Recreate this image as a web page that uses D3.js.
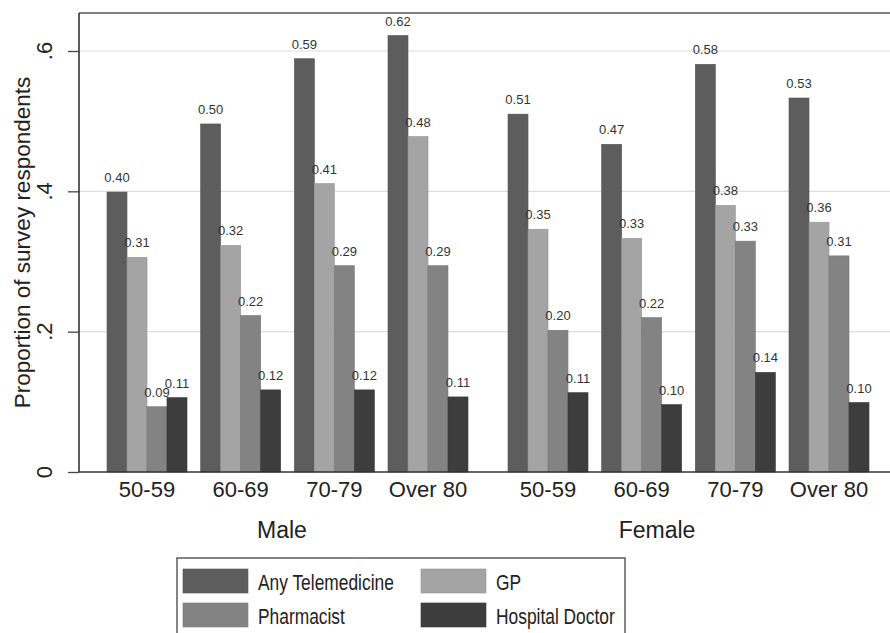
<!DOCTYPE html>
<html><head><meta charset="utf-8">
<script src="https://cdn.jsdelivr.net/npm/d3@7"></script>
<style>body{margin:0;background:#fff}svg{display:block}text{font-family:"Liberation Sans",Arial,sans-serif}</style>
</head><body><svg id="c" width="890" height="633"></svg>
<script>
const sexes = ["Male", "Female"];
const ages = ["50-59", "60-69", "70-79", "Over 80"];
const seriesNames = ["Any Telemedicine", "GP", "Pharmacist", "Hospital Doctor"];
const anyTele = [0.399, 0.496, 0.589, 0.622, 0.510, 0.467, 0.581, 0.533];
const gp = [0.306, 0.323, 0.411, 0.478, 0.346, 0.333, 0.380, 0.356];
const pharmacist = [0.093, 0.223, 0.294, 0.294, 0.202, 0.220, 0.329, 0.308];
const hospital = [0.106, 0.117, 0.117, 0.107, 0.113, 0.096, 0.142, 0.099];
const yTicks = [0, 0.2, 0.4, 0.6];
const yTickLabels = ["0", ".2", ".4", ".6"];
const colors = ["#5d5d5d", "#a4a4a4", "#838383", "#3d3d3d"];

const seriesVals = [anyTele, gp, pharmacist, hospital];
const svg = d3.select("#c");
const pLeft = 79, pTop = 13, pBottom = 472, pRight = 890;

const y = d3.scaleLinear().domain([0, 0.6]).range([pBottom, 51]);
const xSex = d3.scaleBand().domain(sexes).range([107, 869]).paddingInner(0.0998).paddingOuter(0);
const xAge = d3.scaleBand().domain(ages).range([0, xSex.bandwidth()]).paddingInner(0.146).paddingOuter(0);
const xSer = d3.scaleBand().domain(seriesNames).range([0, xAge.bandwidth()]).padding(0);

// gridlines
svg.append("g").selectAll("line").data(yTicks.filter(d => d > 0)).join("line")
  .attr("x1", pLeft).attr("x2", pRight).attr("y1", d => y(d)).attr("y2", d => y(d))
  .attr("stroke", "#dedede").attr("stroke-width", 1.2);

// top border
svg.append("line").attr("x1", pLeft).attr("x2", pRight).attr("y1", pTop).attr("y2", pTop)
  .attr("stroke", "#555").attr("stroke-width", 1.5);

// data rows
const rows = [];
sexes.forEach((s, si) => ages.forEach((a, ai) => seriesNames.forEach((n, ni) => {
  rows.push({sex: s, age: a, name: n, ni, v: seriesVals[ni][si * ages.length + ai]});
})));

const bx = d => xSex(d.sex) + xAge(d.age) + xSer(d.name);
svg.append("g").selectAll("rect").data(rows).join("rect")
  .attr("x", bx).attr("width", xSer.bandwidth())
  .attr("y", d => y(d.v)).attr("height", d => pBottom - y(d.v))
  .attr("fill", d => colors[d.ni]).attr("stroke", d => d3.color(colors[d.ni]).darker(0.3)).attr("stroke-width", 0.6);

svg.append("g").selectAll("text").data(rows).join("text")
  .attr("x", d => bx(d) + xSer.bandwidth() / 2).attr("y", d => y(d.v) - 10)
  .attr("text-anchor", "middle").attr("font-size", 13).attr("fill", "#333")
  .text(d => d3.format(".2f")(d.v));

// axes
const yAxis = d3.axisLeft(y).tickValues(yTicks).tickSize(11).tickFormat("");
const gy = svg.append("g").attr("transform", `translate(${pLeft},0)`).call(yAxis);
gy.select(".domain").remove();
gy.selectAll(".tick line").attr("stroke", "#444").attr("stroke-width", 1.3);
svg.append("line").attr("x1", pLeft).attr("x2", pLeft).attr("y1", pTop).attr("y2", pBottom)
  .attr("stroke", "#333").attr("stroke-width", 1.6);
svg.append("line").attr("x1", pLeft).attr("x2", pRight).attr("y1", pBottom).attr("y2", pBottom)
  .attr("stroke", "#333").attr("stroke-width", 1.6);

svg.append("g").selectAll("text").data(yTicks).join("text")
  .attr("transform", d => `translate(52,${y(d)}) rotate(-90)`)
  .attr("text-anchor", "middle").attr("font-size", 22).attr("fill", "#222")
  .text((d, i) => yTickLabels[i]);

svg.append("text").attr("transform", `translate(30,${(pTop + pBottom) / 2}) rotate(-90)`)
  .attr("text-anchor", "middle").attr("font-size", 22.5).attr("fill", "#222")
  .text("Proportion of survey respondents");

// age labels
const ageRows = [];
sexes.forEach(s => ages.forEach(a => ageRows.push({s, a})));
svg.append("g").selectAll("text").data(ageRows).join("text")
  .attr("x", d => xSex(d.s) + xAge(d.a) + xAge.bandwidth() / 2).attr("y", 497)
  .attr("text-anchor", "middle").attr("font-size", 22).attr("fill", "#222")
  .text(d => d.a);

const sexLabelX = [282, 657];
svg.append("g").selectAll("text").data(sexes).join("text")
  .attr("x", (d, i) => sexLabelX[i]).attr("y", 538)
  .attr("text-anchor", "middle").attr("font-size", 23).attr("fill", "#222")
  .text(d => d);

// legend
const lg = svg.append("g");
lg.append("rect").attr("x", 177).attr("y", 558).attr("width", 448).attr("height", 100)
  .attr("fill", "#fff").attr("stroke", "#444").attr("stroke-width", 1.3);
const legPos = [[183, 569], [421, 569], [183, 603], [421, 603]];
const legOrder = [0, 1, 2, 3];
const li = lg.selectAll("g").data(legOrder).join("g")
  .attr("transform", (d, i) => `translate(${legPos[i][0]},${legPos[i][1]})`);
li.append("rect").attr("width", 65).attr("height", 24).attr("fill", d => colors[d])
  .attr("stroke", d => d3.color(colors[d]).darker(0.3)).attr("stroke-width", 0.6);
li.append("text").attr("transform", "translate(75,21) scale(0.79,1)")
  .attr("font-size", 22).attr("fill", "#222").text(d => seriesNames[d]);
</script></body></html>
